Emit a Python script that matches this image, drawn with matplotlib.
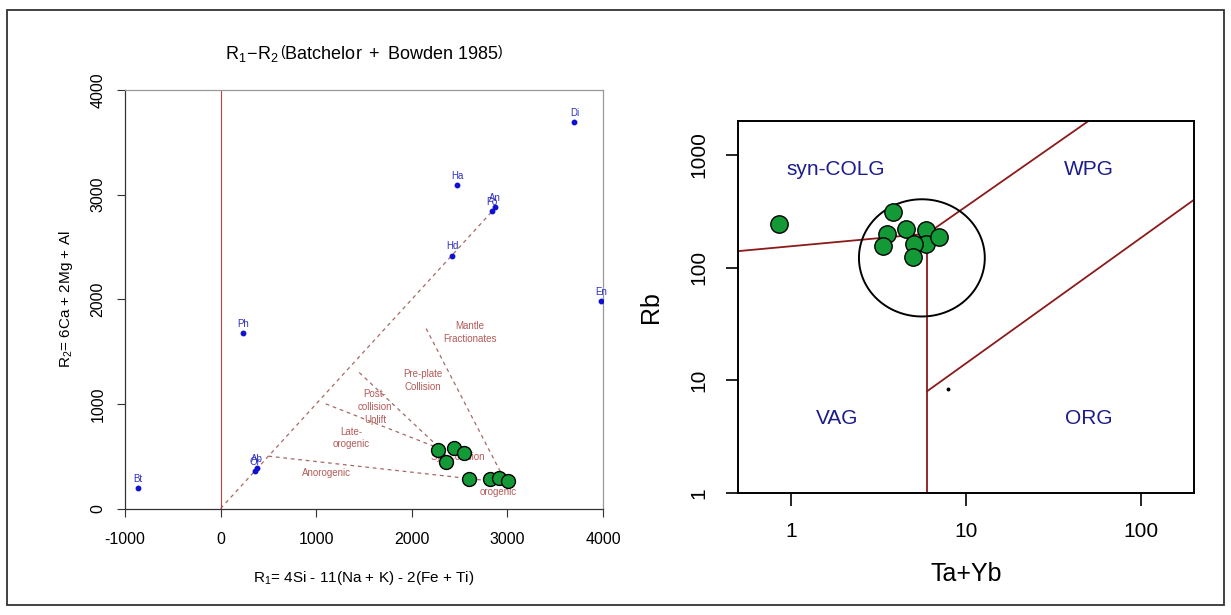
import numpy as np
import matplotlib.pyplot as plt
from matplotlib.patches import Rectangle, Polygon

plt.rcParams.update({
    'font.family': ['Liberation Sans', 'DejaVu Sans'],
    'mathtext.fontset': 'custom',
    'mathtext.rm': 'Liberation Sans',
    'mathtext.it': 'Liberation Sans:italic',
    'mathtext.bf': 'Liberation Sans:bold',
    'axes.unicode_minus': False,
})

# ---- left panel: R1-R2 (Batchelor & Bowden 1985) ----
mineral_names = ['Bt', 'Ph', 'Or', 'Ab', 'Hd', 'Ha', 'Fo', 'An', 'Di', 'En']
mineral_r1 = [-864, 236, 355, 385, 2424, 2473, 2841, 2870, 3701, 3982]
mineral_r2 = [198, 1678, 360, 385, 2418, 3094, 2840, 2877, 3696, 1986]

sample_r1 = [2272, 2437, 2545, 2361, 2600, 2820, 2910, 3008]
sample_r2 = [560, 577, 535, 449, 278, 278, 293, 266]

# field boundaries: (r1 start, r1 end, r2 start, r2 end)
bb_bounds = [
    (0, 2860, 0, 2860),
    (500, 2950, 500, 250),
    (1100, 2300, 1000, 570),
    (1450, 2300, 1300, 570),
    (2150, 2950, 1720, 310),
]
bb_fields = ['Mantle\nFractionates', 'Pre-plate\nCollision', 'Post-\ncollision\nUplift',
             'Late-\norogenic', 'Anorogenic', 'Syn-collision', 'Post-\norogenic']
bb_field_r1 = [2609, 2114, 1615, 1371, 1110, 2478, 2905]
bb_field_r2 = [1682, 1227, 971, 673, 340, 493, 220]

# ---- right panel: Rb vs Ta+Yb (Pearce et al. 1984) ----
tayb = [0.86, 3.81, 3.53, 3.35, 4.55, 5.95, 5.89, 5.05, 4.97, 6.98]
rb = [245, 310, 200, 154, 221, 214, 163, 161, 124, 187]

pearce_x = [[0.5, 6], [6, 50], [6, 6], [6, 200]]
pearce_y = [[140, 200], [200, 2000], [1, 200], [8, 400]]
pearce_fields = ['syn-COLG', 'WPG', 'VAG', 'ORG']
pearce_fx = [1.8, 50, 1.85, 50]
pearce_fy = [750, 740, 4.6, 4.6]

# outlined cluster (centre, half-width in decades)
ring_x, ring_y = 5.6, 122
ring_dx, ring_dy = 0.359, 0.52
stray_x, stray_y = [7.9], [8.3]

W, H = 1231, 615
fig = plt.figure(figsize=(W / 100, H / 100), dpi=100)

# border round the whole picture
fig.patches.append(Rectangle((7 / W, 1 - 605 / H), (1224 - 7) / W, (605 - 10) / H,
                             transform=fig.transFigure, fill=False,
                             ec='#333333', lw=1.3))

# ---------------- left ----------------
ax1 = fig.add_axes([125 / W, 1 - 508.5 / H, (603 - 125) / W, (508.5 - 90) / H])
ax1.set_xlim(-1000, 4000)
ax1.set_ylim(0, 4000)

BROWN = '#a56a66'
for x0, x1, y0, y1 in bb_bounds:
    ax1.plot([x0, x1], [y0, y1], color=BROWN, lw=0.9, ls=(0, (3, 3)), zorder=1)
ax1.plot([0, 0], [0, 4000], color='#c04040', lw=0.8, zorder=1)

for name, fx, fy in zip(bb_fields, bb_field_r1, bb_field_r2):
    ax1.text(fx, fy, name, color='#b45a58', fontsize=7, ha='center', va='center',
             linespacing=1.35, zorder=2)

ax1.plot(mineral_r1, mineral_r2, 'o', color='#1010d0', ms=3.2, zorder=3)
for name, mx, my in zip(mineral_names, mineral_r1, mineral_r2):
    ax1.annotate(name, (mx, my), xytext=(0, 3), textcoords='offset points',
                 ha='center', va='bottom', fontsize=7, color='#3030c0', zorder=3)

ax1.plot(sample_r1, sample_r2, 'o', mfc='#139a37', mec='black', mew=1.0, ms=10, zorder=4)

ax1.set_xticks([-1000, 0, 1000, 2000, 3000, 4000])
ax1.set_yticks([0, 1000, 2000, 3000, 4000])
ax1.tick_params(direction='out', length=6, width=0.8, labelsize=11.5,
                colors='#333333', labelcolor='black')
ax1.tick_params(axis='x', pad=11)
ax1.tick_params(axis='y', pad=8)
for lab in ax1.get_yticklabels():
    lab.set_rotation(90)
    lab.set_va('center')
ax1.spines['left'].set_color('#333333')
ax1.spines['bottom'].set_color('#333333')
ax1.spines['top'].set_color('#999999')
ax1.spines['right'].set_color('#999999')
for s in ax1.spines.values():
    s.set_linewidth(0.9)

ax1.set_xlabel(r'R$_1$= 4Si - 11(Na + K) - 2(Fe + Ti)', fontsize=11, labelpad=16)
ax1.set_ylabel(r'R$_2$= 6Ca + 2Mg + Al', fontsize=11, labelpad=11)
ax1.set_title(r'$\mathrm{R_1\!-\!R_2}\,\left(\mathrm{Batchelor\ +\ Bowden\ 1985}\right)$',
              fontsize=13, pad=22)

# ---------------- right ----------------
ax2 = fig.add_axes([738 / W, 1 - 493 / H, (1194 - 738) / W, (493 - 121) / H])
ax2.set_xscale('log')
ax2.set_yscale('log')
ax2.set_xlim(0.5, 200)
ax2.set_ylim(1, 2000)

for xs, ys in zip(pearce_x, pearce_y):
    ax2.plot(xs, ys, color='#8b1a1a', lw=1.3, zorder=1)

for name, fx, fy in zip(pearce_fields, pearce_fx, pearce_fy):
    ax2.text(fx, fy, name, color='#1c1c8a', fontsize=15, ha='center', va='center')

t = np.linspace(0, 2 * np.pi, 240, endpoint=False)
ring = np.column_stack([10 ** (np.log10(ring_x) + ring_dx * np.cos(t)),
                        10 ** (np.log10(ring_y) + ring_dy * np.sin(t))])
ax2.add_patch(Polygon(ring, closed=True, fill=False, ec='black', lw=1.4, zorder=2))

ax2.plot(tayb, rb, 'o', mfc='#139a37', mec='black', mew=1.0, ms=12.5, zorder=4)
ax2.plot(stray_x, stray_y, 'o', color='black', ms=1.8, zorder=4)

ax2.set_xticks([1, 10, 100])
ax2.set_xticklabels(['1', '10', '100'])
ax2.set_yticks([1, 10, 100, 1000])
ax2.set_yticklabels(['1', '10', '100', '1000'])
ax2.minorticks_off()
ax2.tick_params(direction='out', length=9, width=1.2, labelsize=15, pad=12)
for lab in ax2.get_yticklabels():
    lab.set_rotation(90)
    lab.set_va('center')
for s in ax2.spines.values():
    s.set_linewidth(1.4)
ax2.set_xlabel('Ta+Yb', fontsize=18, labelpad=15)
ax2.set_ylabel('Rb', fontsize=18, labelpad=19)

fig.savefig('out.png', dpi=100, facecolor='white')
